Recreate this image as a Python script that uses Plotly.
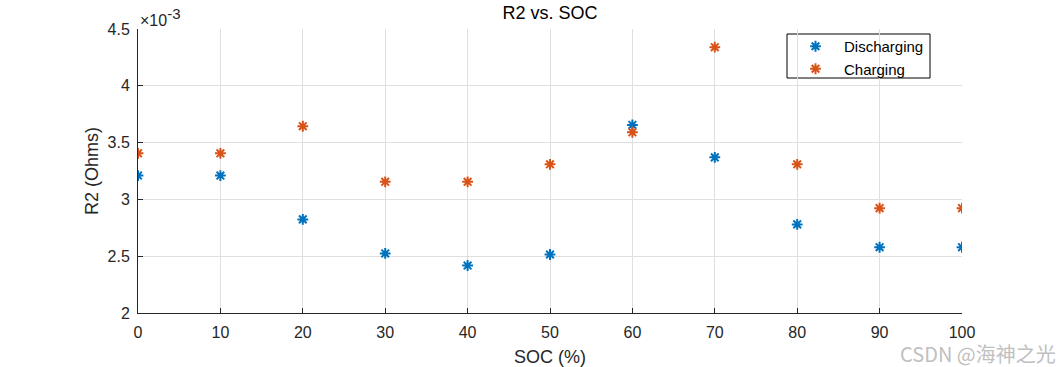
import plotly.graph_objects as go

soc = [0, 10, 20, 30, 40, 50, 60, 70, 80, 90, 100]
r2_discharging = [3.21e-3, 3.21e-3, 2.824e-3, 2.524e-3, 2.418e-3, 2.515e-3, 3.655e-3, 3.37e-3, 2.78e-3, 2.579e-3, 2.579e-3]
r2_charging = [3.406e-3, 3.406e-3, 3.644e-3, 3.155e-3, 3.155e-3, 3.309e-3, 3.591e-3, 4.34e-3, 3.309e-3, 2.923e-3, 2.923e-3]

y_tick_vals = [2e-3, 2.5e-3, 3e-3, 3.5e-3, 4e-3, 4.5e-3]
y_tick_text = ["2", "2.5", "3", "3.5", "4", "4.5"]
x_tick_vals = [0, 10, 20, 30, 40, 50, 60, 70, 80, 90, 100]

FONT = "Liberation Sans, Arial, sans-serif"
PL, PR, PT, PB = 138, 962, 29, 313
PW, PH = PR - PL, PB - PT


def px(x):
    return (x - PL) / PW


def py(y):
    return 1 - (y - PT) / PH


fig = go.Figure()
fig.add_trace(go.Scatter(
    x=soc, y=r2_discharging, mode="markers", name="Discharging",
    marker=dict(symbol="asterisk-open", size=9, color="#0072BD",
                line=dict(color="#0072BD", width=2)),
))
fig.add_trace(go.Scatter(
    x=soc, y=r2_charging, mode="markers", name="Charging",
    marker=dict(symbol="asterisk-open", size=9, color="#D95319",
                line=dict(color="#D95319", width=2)),
))

fig.update_layout(
    width=1063, height=367,
    margin=dict(l=PL, r=1063 - PR, t=PT, b=367 - PB, autoexpand=False),
    paper_bgcolor="white", plot_bgcolor="white",
    font=dict(family=FONT, color="#262626", size=16),
    title=dict(text="R2 vs. SOC", x=0.5, xanchor="center", y=1 - 13 / 367, yanchor="middle",
               xref="paper",
               font=dict(size=18, color="#000000", family=FONT)),
    showlegend=True,
    legend=dict(x=px(787), y=py(30), xanchor="left", yanchor="top",
                borderwidth=0, bgcolor="rgba(0,0,0,0)",
                font=dict(size=15, color="#000000", family=FONT),
                itemwidth=47, tracegroupgap=0),
    shapes=[dict(type="rect", xref="paper", yref="paper",
                 x0=px(787), x1=px(930), y0=py(78), y1=py(34),
                 line=dict(color="#000000", width=1), fillcolor="white", layer="below")],
)

fig.update_xaxes(
    range=[0, 100], tickvals=x_tick_vals, ticks="inside", ticklen=5,
    tickcolor="#262626", showline=True, linecolor="#262626", linewidth=1,
    showgrid=True, gridcolor="#DFDFDF", gridwidth=1, zeroline=False,
    ticklabelstandoff=5, automargin=False,
    title=dict(text="SOC (%)", font=dict(size=18, color="#262626"), standoff=14),
    tickfont=dict(size=16, color="#262626"),
)
fig.update_yaxes(
    range=[2e-3, 4.5e-3], tickvals=y_tick_vals, ticktext=y_tick_text,
    ticks="inside", ticklen=5, tickcolor="#262626",
    showline=True, linecolor="#262626", linewidth=1,
    showgrid=True, gridcolor="#DFDFDF", gridwidth=1, zeroline=False,
    ticklabelstandoff=4, automargin=False,
    title=dict(text="R2 (Ohms)", font=dict(size=18, color="#262626"), standoff=4),
    tickfont=dict(size=16, color="#262626"),
)

fig.add_annotation(
    text="×10<sup><span style='font-size:15px'>-3</span></sup>", xref="paper", yref="paper",
    x=0.0, y=1.0, xanchor="left", yanchor="bottom", showarrow=False, yshift=-2,
    font=dict(size=16, color="#262626", family=FONT),
)
fig.add_annotation(
    text="CSDN @海神之光", xref="paper", yref="paper", x=px(1058), y=py(353),
    xanchor="right", yanchor="middle", showarrow=False,
    font=dict(size=20, color="#C0C0C0", family="Noto Sans CJK SC, " + FONT),
)

fig.write_html("out.html", config={"displayModeBar": False},
               post_script="document.body.style.margin='0px';")
